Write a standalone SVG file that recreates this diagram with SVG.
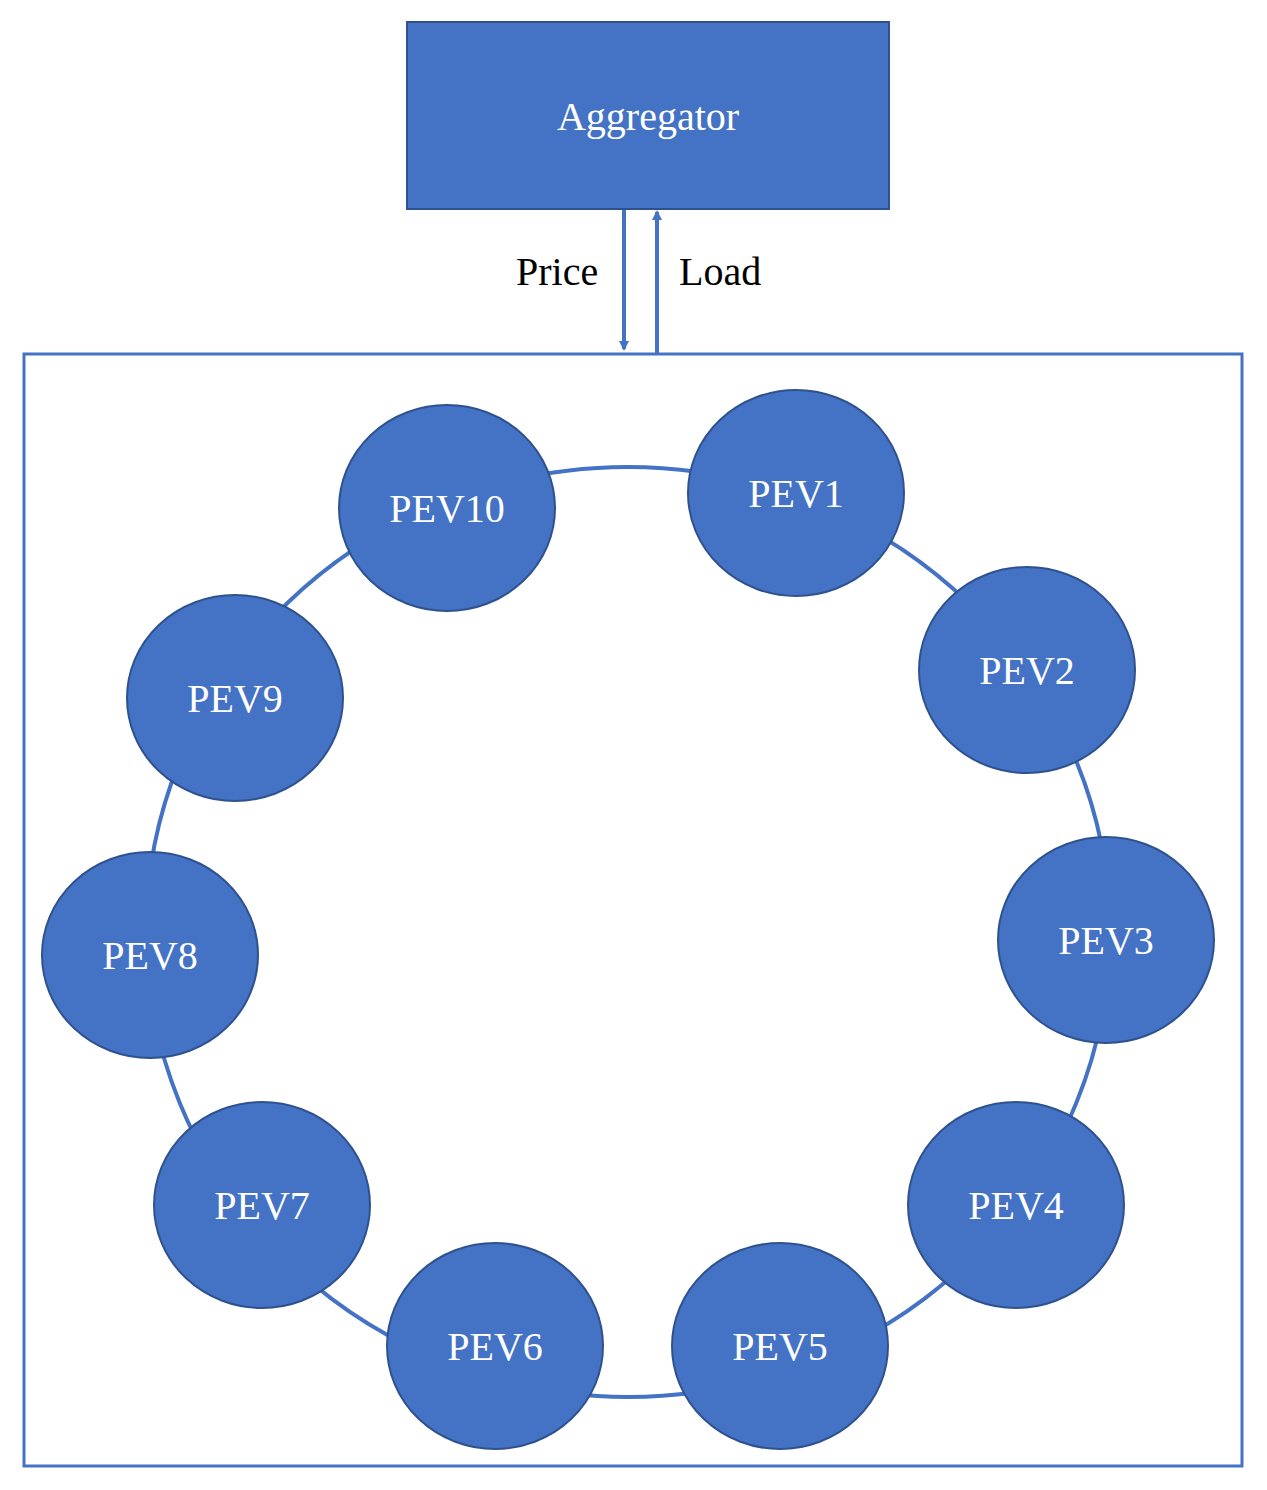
<svg xmlns="http://www.w3.org/2000/svg" width="1267" height="1490" viewBox="0 0 1267 1490">
<style>
.n{fill:#4472C4;stroke:#2F528F;stroke-width:2}
.t{font-family:"Liberation Serif",serif;font-size:40px;fill:#fff;text-anchor:middle}
.l{font-family:"Liberation Serif",serif;font-size:40px;fill:#000}
.c{stroke:#4472C4;stroke-width:4;fill:none}
</style>
<defs><marker id="a" markerWidth="10" markerHeight="10" refX="8" refY="5" orient="auto" markerUnits="userSpaceOnUse"><path d="M0,0 L10,5 L0,10 z" fill="#4472C4"/></marker></defs>
<rect x="0" y="0" width="1267" height="1490" fill="#fff"/>
<g id="connectors">
<line class="c" x1="624" y1="209" x2="624" y2="349" marker-end="url(#a)"/>
<line class="c" x1="657" y1="353" x2="657" y2="212" marker-end="url(#a)"/>
<ellipse class="c" cx="628" cy="932" rx="482" ry="465"/>
</g>
<g id="outer"><rect x="24" y="354" width="1218" height="1112" fill="none" stroke="#4472C4" stroke-width="3"/></g>
<g id="aggregator"><rect class="n" x="407" y="22" width="482" height="187"/><text class="t" x="648" y="130" font-size="42">Aggregator</text></g>
<g id="labels"><text class="l" x="516" y="285">Price</text><text class="l" x="679" y="285">Load</text></g>
<g id="pev1"><ellipse class="n" cx="796" cy="493" rx="108" ry="103"/><text class="t" x="796" y="507">PEV1</text></g>
<g id="pev2"><ellipse class="n" cx="1027" cy="670" rx="108" ry="103"/><text class="t" x="1027" y="684">PEV2</text></g>
<g id="pev3"><ellipse class="n" cx="1106" cy="940" rx="108" ry="103"/><text class="t" x="1106" y="954">PEV3</text></g>
<g id="pev4"><ellipse class="n" cx="1016" cy="1205" rx="108" ry="103"/><text class="t" x="1016" y="1219">PEV4</text></g>
<g id="pev5"><ellipse class="n" cx="780" cy="1346" rx="108" ry="103"/><text class="t" x="780" y="1360">PEV5</text></g>
<g id="pev6"><ellipse class="n" cx="495" cy="1346" rx="108" ry="103"/><text class="t" x="495" y="1360">PEV6</text></g>
<g id="pev7"><ellipse class="n" cx="262" cy="1205" rx="108" ry="103"/><text class="t" x="262" y="1219">PEV7</text></g>
<g id="pev8"><ellipse class="n" cx="150" cy="955" rx="108" ry="103"/><text class="t" x="150" y="969">PEV8</text></g>
<g id="pev9"><ellipse class="n" cx="235" cy="698" rx="108" ry="103"/><text class="t" x="235" y="712">PEV9</text></g>
<g id="pev10"><ellipse class="n" cx="447" cy="508" rx="108" ry="103"/><text class="t" x="447" y="522">PEV10</text></g>
</svg>
